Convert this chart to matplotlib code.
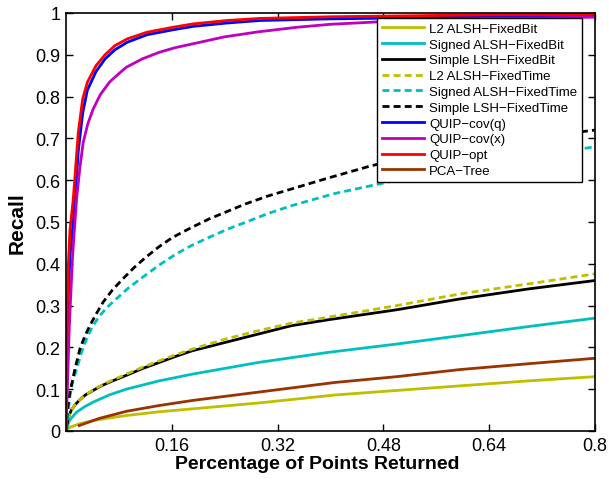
import matplotlib
matplotlib.use("Agg")
import matplotlib.pyplot as plt

plt.rcParams['font.family'] = ['Liberation Sans', 'DejaVu Sans']

# recall vs. fraction of points returned, one (x, y) list per method
l2_bit_x = [0, 0.006, 0.02, 0.041, 0.065, 0.091, 0.141, 0.191, 0.291, 0.406, 0.5, 0.596, 0.7, 0.8]
l2_bit_y = [0, 0.009, 0.017, 0.025, 0.031, 0.037, 0.046, 0.053, 0.067, 0.086, 0.097, 0.108, 0.12, 0.13]

signed_bit_x = [0, 0.005, 0.016, 0.028, 0.041, 0.065, 0.091, 0.141, 0.191, 0.291, 0.396, 0.5, 0.596, 0.7, 0.8]
signed_bit_y = [0, 0.025, 0.045, 0.058, 0.069, 0.086, 0.1, 0.12, 0.136, 0.164, 0.188, 0.208, 0.228, 0.25, 0.27]

simple_bit_x = [0, 0.003, 0.008, 0.014, 0.021, 0.03, 0.041, 0.052, 0.066, 0.091, 0.115, 0.141, 0.165, 0.191, 0.241, 0.291, 0.341, 0.396, 0.5, 0.596, 0.7, 0.8]
simple_bit_y = [0, 0.03, 0.05, 0.063, 0.075, 0.087, 0.097, 0.107, 0.117, 0.133, 0.149, 0.164, 0.178, 0.192, 0.212, 0.232, 0.252, 0.266, 0.29, 0.316, 0.34, 0.36]

l2_time_x = [0, 0.003, 0.008, 0.014, 0.021, 0.03, 0.041, 0.052, 0.066, 0.091, 0.115, 0.141, 0.165, 0.191, 0.241, 0.291, 0.341, 0.396, 0.5, 0.596, 0.7, 0.8]
l2_time_y = [0, 0.03, 0.05, 0.063, 0.075, 0.087, 0.098, 0.108, 0.119, 0.136, 0.152, 0.168, 0.182, 0.196, 0.22, 0.24, 0.258, 0.272, 0.3, 0.328, 0.352, 0.376]

signed_time_x = [0, 0.003, 0.006, 0.01, 0.016, 0.023, 0.031, 0.04, 0.051, 0.063, 0.076, 0.095, 0.116, 0.14, 0.166, 0.19, 0.216, 0.243, 0.271, 0.305, 0.341, 0.406, 0.5, 0.6, 0.7, 0.8]
signed_time_y = [0, 0.04, 0.085, 0.118, 0.148, 0.186, 0.22, 0.25, 0.276, 0.297, 0.316, 0.343, 0.368, 0.396, 0.423, 0.444, 0.463, 0.482, 0.499, 0.52, 0.539, 0.568, 0.6, 0.63, 0.655, 0.68]

simple_time_x = [0, 0.002, 0.006, 0.0135, 0.021, 0.028, 0.036, 0.046, 0.056, 0.07, 0.086, 0.103, 0.121, 0.14, 0.161, 0.19, 0.216, 0.245, 0.271, 0.305, 0.341, 0.396, 0.456, 0.5, 0.6, 0.7, 0.8]
simple_time_y = [0, 0.05, 0.093, 0.148, 0.196, 0.225, 0.252, 0.281, 0.308, 0.337, 0.364, 0.391, 0.416, 0.44, 0.463, 0.487, 0.507, 0.526, 0.543, 0.562, 0.579, 0.605, 0.632, 0.65, 0.68, 0.70, 0.72]

quip_q_x = [0, 0.001, 0.003, 0.006, 0.011, 0.0186, 0.0252, 0.0322, 0.0454, 0.059, 0.074, 0.0925, 0.1225, 0.1623, 0.1925, 0.243, 0.293, 0.4, 0.5, 0.6, 0.7, 0.8]
quip_q_y = [0, 0.15, 0.3, 0.42, 0.5, 0.67, 0.76, 0.815, 0.86, 0.89, 0.912, 0.93, 0.948, 0.96, 0.968, 0.976, 0.982, 0.986, 0.988, 0.99, 0.991, 0.992]

quip_x_x = [0, 0.002, 0.005, 0.01, 0.016, 0.021, 0.026, 0.033, 0.041, 0.052, 0.066, 0.08, 0.091, 0.115, 0.141, 0.165, 0.191, 0.24, 0.291, 0.35, 0.4, 0.5, 0.6, 0.7, 0.8]
quip_x_y = [0, 0.1, 0.25, 0.42, 0.555, 0.63, 0.69, 0.735, 0.77, 0.805, 0.835, 0.855, 0.87, 0.89, 0.906, 0.917, 0.926, 0.943, 0.955, 0.966, 0.973, 0.981, 0.986, 0.988, 0.99]

quip_opt_x = [0, 0.001, 0.003, 0.006, 0.011, 0.0186, 0.0252, 0.0322, 0.0454, 0.059, 0.074, 0.0925, 0.1225, 0.1623, 0.1925, 0.243, 0.293, 0.4, 0.5, 0.6, 0.7, 0.8]
quip_opt_y = [0, 0.2, 0.38, 0.48, 0.555, 0.715, 0.794, 0.834, 0.874, 0.9, 0.922, 0.938, 0.954, 0.966, 0.974, 0.982, 0.987, 0.991, 0.993, 0.995, 0.996, 0.997]

pca_x = [0.02, 0.05, 0.091, 0.141, 0.191, 0.291, 0.406, 0.5, 0.596, 0.7, 0.8]
pca_y = [0.013, 0.03, 0.047, 0.061, 0.073, 0.093, 0.116, 0.13, 0.147, 0.161, 0.174]

x_ticks = [0.16, 0.32, 0.48, 0.64, 0.8]
x_tick_labels = ['0.16', '0.32', '0.48', '0.64', '0.8']
y_ticks = [i / 10 for i in range(11)]
y_tick_labels = ['0'] + ['0.%d' % i for i in range(1, 10)] + ['1']

yel = (0.75, 0.75, 0)
cya = (0, 0.75, 0.75)
mag = (0.75, 0, 0.75)
brn = (0.6, 0.2, 0)
dash = (2.5, 1.5)
lw = 2

fig = plt.figure(figsize=(6.09, 4.81), dpi=100)
ax = fig.add_axes([66 / 609, 49 / 481, 529 / 609, 418 / 481])

ax.plot(l2_bit_x, l2_bit_y, color=yel, lw=lw, label='L2 ALSH\u2212FixedBit')
ax.plot(signed_bit_x, signed_bit_y, color=cya, lw=lw, label='Signed ALSH\u2212FixedBit')
ax.plot(simple_bit_x, simple_bit_y, color='k', lw=lw, label='Simple LSH\u2212FixedBit')
ax.plot(l2_time_x, l2_time_y, color=yel, lw=lw, dashes=dash, label='L2 ALSH\u2212FixedTime')
ax.plot(signed_time_x, signed_time_y, color=cya, lw=lw, dashes=dash, label='Signed ALSH\u2212FixedTime')
ax.plot(simple_time_x, simple_time_y, color='k', lw=lw, dashes=dash, label='Simple LSH\u2212FixedTime')
ax.plot(quip_q_x, quip_q_y, color='b', lw=lw, label='QUIP\u2212cov(q)')
ax.plot(quip_x_x, quip_x_y, color=mag, lw=lw, label='QUIP\u2212cov(x)')
ax.plot(quip_opt_x, quip_opt_y, color='r', lw=lw, label='QUIP\u2212opt')
ax.plot(pca_x, pca_y, color=brn, lw=lw, label='PCA\u2212Tree')

ax.set_xlim(0, 0.8)
ax.set_ylim(0, 1)
ax.set_xticks(x_ticks)
ax.set_xticklabels(x_tick_labels)
ax.set_yticks(y_ticks)
ax.set_yticklabels(y_tick_labels)
ax.tick_params(direction='in', top=True, right=True, length=5, width=1, labelsize=13, pad=4)
for s in ax.spines.values():
    s.set_linewidth(1.2)

ax.set_xlabel('Percentage of Points Returned', fontsize=14, fontweight='bold', labelpad=0)
ax.xaxis.set_label_coords(0.475, -0.058)
ax.set_ylabel('Recall', fontsize=15, fontweight='bold', labelpad=6)

leg = ax.legend(loc='upper right', bbox_to_anchor=(582 / 609, 1 - 19 / 481),
                bbox_transform=fig.transFigure, borderaxespad=0,
                fontsize=9.5, frameon=True, fancybox=False,
                edgecolor='k', framealpha=1, handlelength=3.2, handletextpad=0.38,
                labelspacing=0.27, borderpad=0.35)
leg.get_frame().set_linewidth(1)

fig.savefig('out.png', dpi=100)
